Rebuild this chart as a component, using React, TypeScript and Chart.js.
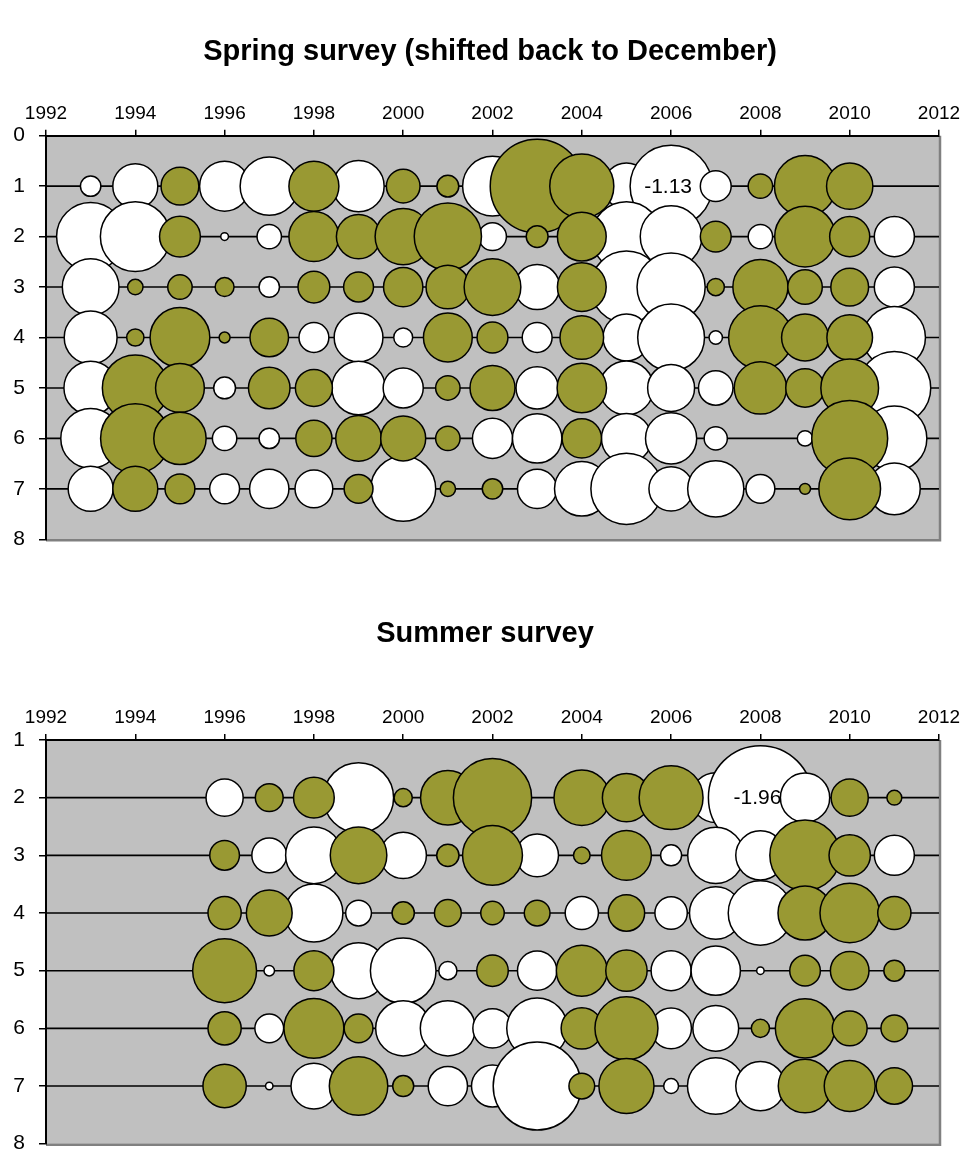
import React, { useEffect, useRef } from 'react';
import { Chart, registerables } from 'chart.js';

Chart.register(...registerables);

// ---------- data ----------
const years = [1993, 1994, 1995, 1996, 1997, 1998, 1999, 2000, 2001, 2002, 2003, 2004, 2005, 2006, 2007, 2008, 2009, 2010, 2011];
const xTickYears = [1992, 1994, 1996, 1998, 2000, 2002, 2004, 2006, 2008, 2010, 2012];

const springTitle = 'Spring survey (shifted back to December)';
const springAges = [1, 2, 3, 4, 5, 6, 7];
const springAge1 = [-0.07, -0.34, 0.24, -0.42, -0.57, 0.42, -0.44, 0.19, 0.08, -0.60, 1.48, 0.69, -0.36, -1.13, -0.16, 0.10, 0.63, 0.36, null];
const springAge2 = [-0.78, -0.82, 0.28, -0.01, -0.10, 0.42, 0.33, 0.53, 0.76, -0.13, 0.08, 0.40, -0.82, -0.64, 0.16, -0.10, 0.62, 0.27, -0.27];
const springAge3 = [-0.54, 0.04, 0.10, 0.06, -0.07, 0.17, 0.15, 0.26, 0.32, 0.54, -0.34, 0.40, -0.87, -0.78, 0.05, 0.51, 0.20, 0.24, -0.27];
const springAge4 = [-0.47, 0.05, 0.60, 0.02, 0.25, -0.15, -0.40, -0.06, 0.40, 0.16, -0.15, 0.32, -0.37, -0.75, -0.03, 0.68, 0.37, 0.35, -0.65];
const springAge5 = [-0.48, 0.73, 0.40, -0.08, 0.29, 0.23, -0.48, -0.27, 0.10, 0.34, -0.30, 0.41, -0.49, -0.37, -0.20, 0.46, 0.25, 0.56, -0.89];
const springAge6 = [-0.60, 0.81, 0.46, -0.10, -0.07, 0.22, 0.35, 0.34, 0.10, -0.27, -0.41, 0.26, -0.42, -0.44, -0.09, null, -0.04, 0.97, -0.71];
const springAge7 = [-0.34, 0.34, 0.15, -0.15, -0.26, -0.24, 0.14, -0.71, 0.04, 0.07, -0.26, -0.50, -0.85, -0.33, -0.53, -0.14, 0.02, 0.64, -0.45];

const summerTitle = 'Summer survey';
const summerAges = [2, 3, 4, 5, 6, 7];
const summerAge2 = [null, null, null, -0.25, 0.14, 0.30, -0.89, 0.06, 0.54, 1.11, null, 0.56, 0.42, 0.74, -0.45, -1.96, -0.44, 0.25, 0.04];
const summerAge3 = [null, null, null, 0.16, -0.22, -0.58, 0.58, -0.39, 0.09, 0.65, -0.33, 0.05, 0.45, -0.08, -0.57, -0.44, 0.90, 0.31, -0.29];
const summerAge4 = [null, null, null, 0.20, 0.38, -0.61, -0.12, 0.09, 0.13, 0.10, 0.12, -0.20, 0.24, -0.19, -0.50, -0.75, 0.53, 0.64, 0.20];
const summerAge5 = [null, null, null, 0.74, -0.02, 0.29, -0.57, -0.78, -0.06, 0.18, -0.28, 0.47, 0.31, -0.29, -0.44, -0.01, 0.17, 0.27, 0.08];
const summerAge6 = [null, null, null, 0.20, -0.15, 0.65, 0.15, -0.55, -0.55, -0.28, -0.67, 0.31, 0.72, -0.30, -0.38, 0.06, 0.64, 0.22, 0.13];
const summerAge7 = [null, null, null, 0.34, -0.01, -0.38, 0.62, 0.08, -0.28, -0.32, -1.40, 0.12, 0.55, -0.04, -0.58, -0.44, 0.52, 0.47, 0.24];

// ---------- styles ----------
const FONT = '"Liberation Sans", Arial, Helvetica, sans-serif';
const OLIVE = '#999933';
const PLOT_BG = '#C0C0C0';

type Row = (number | null)[];

function buildDatasets(rows: Row[], ages: number[], k: number) {
  const lines = ages.map((age) => ({
    type: 'line' as const,
    data: [{ x: xTickYears[0], y: age }, { x: xTickYears[xTickYears.length - 1], y: age }],
    borderColor: '#000',
    borderWidth: 1.6,
    pointRadius: 0,
    pointHoverRadius: 0,
    fill: false,
    order: 100,
  }));
  const makeBubbles = (positive: boolean, baseOrder: number) =>
    rows.map((row, i) => ({
      type: 'bubble' as const,
      data: row
        .map((v, j) => (v === null || (v >= 0) !== positive ? null : { x: years[j], y: ages[i], v }))
        .filter((p) => p !== null),
      backgroundColor: positive ? OLIVE : '#FFFFFF',
      borderColor: '#000',
      borderWidth: 1.5,
      hoverBorderWidth: 1.5,
      radius: (ctx: any) => (ctx.raw ? k * Math.sqrt(Math.abs(ctx.raw.v)) : 0),
      hoverRadius: 0,
      clip: false as const,
      order: baseOrder - i,
    }));
  // negative (white) bubbles lie underneath the positive (olive) ones
  return [...lines, ...makeBubbles(false, 80), ...makeBubbles(true, 40)];
}

const panelPlugin = {
  id: 'panelDeco',
  beforeDraw(chart: any) {
    const { ctx, chartArea: a } = chart;
    ctx.save();
    ctx.fillStyle = PLOT_BG;
    ctx.fillRect(a.left, a.top, a.right - a.left, a.bottom - a.top);
    ctx.strokeStyle = '#808080';
    ctx.lineWidth = 2.5;
    ctx.beginPath();
    ctx.moveTo(a.right + 1, a.top);
    ctx.lineTo(a.right + 1, a.bottom + 1);
    ctx.lineTo(a.left, a.bottom + 1);
    ctx.stroke();
    ctx.restore();
  },
  afterDatasetsDraw(chart: any) {
    // label the most negative bubble with its value
    let best: any = null;
    chart.data.datasets.forEach((ds: any, di: number) => {
      if (ds.type !== 'bubble') return;
      const meta = chart.getDatasetMeta(di);
      ds.data.forEach((p: any, pi: number) => {
        if (!best || p.v < best.v) best = { v: p.v, el: meta.data[pi] };
      });
    });
    if (best) {
      const { ctx } = chart;
      ctx.save();
      ctx.font = `21px ${FONT}`;
      ctx.fillStyle = '#000';
      ctx.textAlign = 'center';
      ctx.textBaseline = 'middle';
      ctx.fillText(best.v.toFixed(2), best.el.x - 3, best.el.y + 1);
      ctx.restore();
    }
  },
  afterDraw(chart: any, _args: any, opts: any) {
    const { ctx } = chart;
    ctx.save();
    ctx.font = `bold 29px ${FONT}`;
    ctx.fillStyle = '#000';
    ctx.textAlign = 'center';
    ctx.textBaseline = 'middle';
    ctx.fillText(opts.text, opts.x, opts.y);
    ctx.restore();
  },
};

type PanelProps = {
  title: string;
  rows: Row[];
  ages: number[];
  yMin: number;
  k: number;
  padTop: number;
  padBottom: number;
  titleX: number;
  titleY: number;
};

function BubblePanel(props: PanelProps) {
  const ref = useRef<HTMLCanvasElement>(null);
  useEffect(() => {
    if (!ref.current) return;
    const chart = new Chart(ref.current, {
      type: 'bubble',
      data: { datasets: buildDatasets(props.rows, props.ages, props.k) as any },
      options: {
        responsive: false,
        animation: false,
        devicePixelRatio: 1,
        events: [],
        layout: {
          autoPadding: false,
          padding: { top: props.padTop, bottom: props.padBottom, left: 0, right: 31 },
        },
        plugins: {
          legend: { display: false },
          tooltip: { enabled: false },
          title: { display: false },
          panelDeco: { text: props.title, x: props.titleX, y: props.titleY },
        } as any,
        scales: {
          x: {
            type: 'linear',
            position: 'top',
            min: xTickYears[0],
            max: xTickYears[xTickYears.length - 1],
            afterFit: (s: any) => { s.height = 30; s.paddingLeft = 0; s.paddingRight = 0; },
            afterBuildTicks: (s: any) => { s.ticks = xTickYears.map((v) => ({ value: v })); },
            ticks: {
              callback: (v: any) => String(v),
              color: '#000',
              font: { family: FONT, size: 19 },
              padding: 5,
              maxRotation: 0,
              autoSkip: false,
            },
            grid: { drawOnChartArea: false, drawTicks: true, tickLength: 6, color: '#000', lineWidth: 1.5 },
            border: { display: true, color: '#000', width: 2 },
          },
          y: {
            type: 'linear',
            reverse: true,
            min: props.yMin,
            max: 8,
            afterFit: (s: any) => { s.width = 46; s.paddingTop = 0; s.paddingBottom = 0; },
            ticks: {
              stepSize: 1,
              color: '#000',
              font: { family: FONT, size: 21 },
              padding: 14,
            },
            grid: { drawOnChartArea: false, drawTicks: true, tickLength: 7, color: '#000', lineWidth: 1.5 },
            border: { display: true, color: '#000', width: 2 },
          },
        },
      },
      plugins: [panelPlugin],
    });
    return () => chart.destroy();
  }, []);
  return (
    <div style={{ width: 970, height: 578, position: 'relative' }}>
      <canvas ref={ref} width={970} height={578} style={{ display: 'block' }} />
    </div>
  );
}

export default function App() {
  return (
    <div style={{ position: 'absolute', left: 0, top: 0, width: 970, height: 1156, background: '#fff' }}>
      <BubblePanel
        title={springTitle}
        rows={[springAge1, springAge2, springAge3, springAge4, springAge5, springAge6, springAge7]}
        ages={springAges}
        yMin={0}
        k={38.57}
        padTop={105.7}
        padBottom={38.7}
        titleX={490}
        titleY={52}
      />
      <BubblePanel
        title={summerTitle}
        rows={[summerAge2, summerAge3, summerAge4, summerAge5, summerAge6, summerAge7]}
        ages={summerAges}
        yMin={1}
        k={37.14}
        padTop={132}
        padBottom={12.3}
        titleX={485}
        titleY={56}
      />
    </div>
  );
}
